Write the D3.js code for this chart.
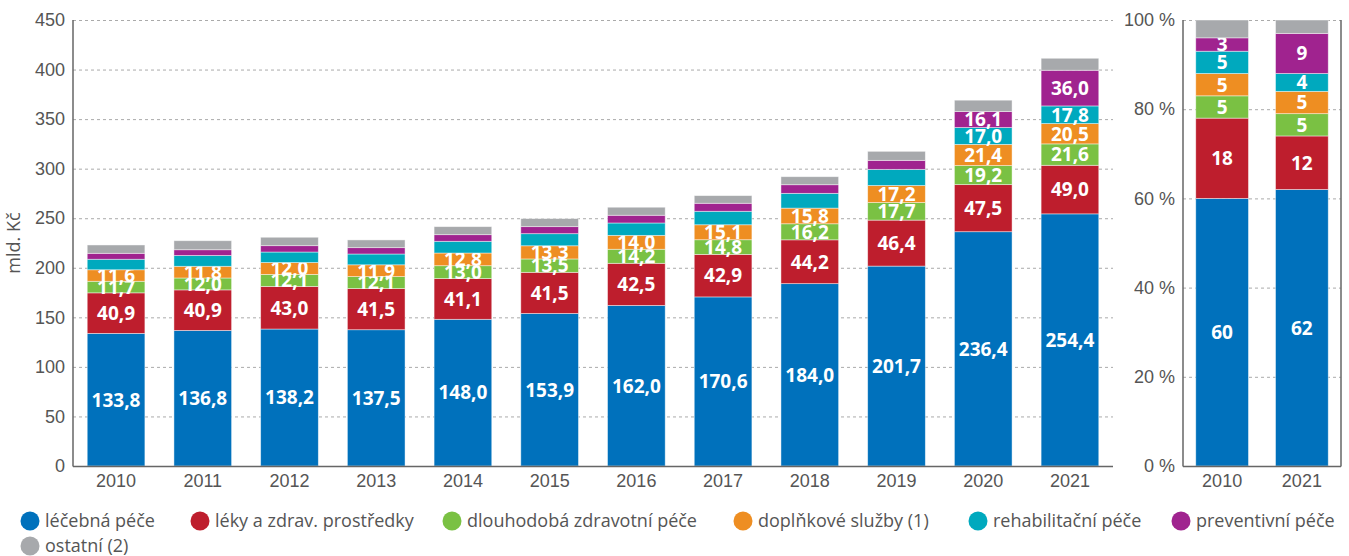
<!DOCTYPE html>
<html lang="cs">
<head>
    <meta charset="UTF-8">
    <title>Výdaje na zdravotní péči</title>
    <style>
        body { margin: 0; background: #fff; font-family: "Open Sans", sans-serif; }
        .tick text { fill: #555; }
    </style>
</head>
<body>
    <div id="chart"></div>

    <script src="https://d3js.org/d3.v7.min.js"></script>
    <script>
        // years and values in mld. Kč
        const years = ["2010", "2011", "2012", "2013", "2014", "2015", "2016", "2017", "2018", "2019", "2020", "2021"];
        const lecebna = [133.8, 136.8, 138.2, 137.5, 148.0, 153.9, 162.0, 170.6, 184.0, 201.7, 236.4, 254.4];
        const leky = [40.9, 40.9, 43.0, 41.5, 41.1, 41.5, 42.5, 42.9, 44.2, 46.4, 47.5, 49.0];
        const dlouhodoba = [11.7, 12.0, 12.1, 12.1, 13.0, 13.5, 14.2, 14.8, 16.2, 17.7, 19.2, 21.6];
        const doplnkove = [11.6, 11.8, 12.0, 11.9, 12.8, 13.3, 14.0, 15.1, 15.8, 17.2, 21.4, 20.5];
        const rehabilitacni = [10.6, 10.9, 10.6, 10.9, 11.8, 12.2, 12.5, 13.6, 14.9, 16.3, 17.0, 17.8];
        const preventivni = [6.0, 5.8, 6.4, 6.4, 6.7, 7.1, 7.8, 8.1, 8.7, 9.1, 16.1, 36.0];
        const ostatni = [8.4, 9.1, 8.5, 7.8, 8.1, 8.1, 8.1, 7.7, 8.1, 9.1, 11.5, 12.1];

        // shares in %
        const shareYears = ["2010", "2021"];
        const shareLecebna = [60, 62];
        const shareLeky = [18, 12];
        const shareDlouhodoba = [5, 5];
        const shareDoplnkove = [5, 5];
        const shareRehabilitacni = [5, 4];
        const sharePreventivni = [3, 9];
        const shareOstatni = [4, 3];

        const yTicks = [0, 50, 100, 150, 200, 250, 300, 350, 400, 450];
        const pctTicks = [0, 20, 40, 60, 80, 100];

        const seriesNames = ["léčebná péče", "léky a zdrav. prostředky", "dlouhodobá zdravotní péče",
            "doplňkové služby (1)", "rehabilitační péče", "preventivní péče", "ostatní (2)"];
        const colors = ["#0071bc", "#be1e2d", "#7ac143", "#ee8e22", "#00a9be", "#a0238f", "#a7a9ac"];

        // which years get a value label in the left panel (null = all)
        const labelYears = [null, null, null, null, ["2020", "2021"], ["2020", "2021"], []];
        const shareLabelled = [true, true, true, true, true, true, false];

        const absSeries = [lecebna, leky, dlouhodoba, doplnkove, rehabilitacni, preventivni, ostatni];
        const shareSeries = [shareLecebna, shareLeky, shareDlouhodoba, shareDoplnkove, shareRehabilitacni, sharePreventivni, shareOstatni];

        const W = 1349, H = 556;
        const svg = d3.select("#chart").append("svg")
            .attr("width", W).attr("height", H);

        const fmt1 = v => d3.format(".1f")(v).replace(".", ",");

        const y = d3.scaleLinear().domain([0, 450]).range([466, 20]);
        const yPct = d3.scaleLinear().domain([0, 100]).range([466, 20]);

        const x = d3.scaleBand().domain(years).range([73, 1113])
            .paddingInner(0.335).paddingOuter(0.164);
        const xPct = d3.scaleBand().domain(shareYears).range([1183, 1341])
            .paddingInner(0.339).paddingOuter(0.16);

        function stackRows(cats, series) {
            return cats.map((c, i) => {
                const row = { cat: c };
                series.forEach((s, k) => row["s" + k] = s[i]);
                return row;
            });
        }
        const keys = seriesNames.map((d, k) => "s" + k);
        const stackedAbs = d3.stack().keys(keys)(stackRows(years, absSeries));
        const stackedPct = d3.stack().keys(keys)(stackRows(shareYears, shareSeries));

        // gridlines + axes
        function drawAxis(scale, ticks, xLeft, xRight, fmt) {
            const g = svg.append("g").attr("transform", `translate(${xLeft},0)`);
            g.call(d3.axisLeft(scale).tickValues(ticks).tickFormat(fmt)
                .tickSizeInner(-(xRight - xLeft)).tickSizeOuter(0).tickPadding(8));
            g.select(".domain").remove();
            g.selectAll(".tick line")
                .attr("stroke", "#aaa").attr("stroke-dasharray", "3,3")
                .attr("stroke-width", 1);
            g.selectAll(".tick text").attr("font-size", 18).attr("fill", "#555");
            return g;
        }
        drawAxis(y, yTicks, 73, 1113, d3.format("d"));
        drawAxis(yPct, pctTicks, 1183, 1341, d => d + " %");

        // each layer: rects, then its labels (the next layer covers label overflow)
        function drawBars(stacked, xs, ys, labelFn, showLabel) {
            stacked.forEach((layer, k) => {
                const g = svg.append("g");
                g.selectAll("rect").data(layer).join("rect")
                    .attr("x", d => xs(d.data.cat))
                    .attr("width", xs.bandwidth())
                    .attr("y", d => ys(d[1]))
                    .attr("height", d => ys(d[0]) - ys(d[1]))
                    .attr("fill", colors[k])
                    .attr("stroke", "rgba(255,255,255,0.55)")
                    .attr("stroke-width", 0.8);
                g.selectAll("text").data(layer.filter(d => showLabel(k, d.data.cat))).join("text")
                    .attr("x", d => xs(d.data.cat) + xs.bandwidth() / 2)
                    .attr("y", d => (ys(d[0]) + ys(d[1])) / 2)
                    .attr("dy", "0.36em")
                    .attr("text-anchor", "middle")
                    .attr("font-size", 19)
                    .attr("font-weight", "bold")
                    .attr("fill", "#fff")
                    .text(d => labelFn(d[1] - d[0]));
            });
        }
        drawBars(stackedAbs, x, y, fmt1, (k, cat) => labelYears[k] === null || labelYears[k].includes(cat));
        drawBars(stackedPct, xPct, yPct, d3.format("d"), (k) => shareLabelled[k]);

        // axis lines
        const axisColor = "#666";
        function line(x1, y1, x2, y2) {
            svg.append("line").attr("x1", x1).attr("y1", y1).attr("x2", x2).attr("y2", y2)
                .attr("stroke", axisColor).attr("stroke-width", 1.5);
        }
        line(73, 20, 73, 466.5);
        line(73, 466.5, 1113, 466.5);
        line(1183, 20, 1183, 466.5);
        line(1183, 466.5, 1341, 466.5);
        line(1341, 20, 1341, 466.5);

        // x tick labels
        const xAxisL = svg.append("g").attr("transform", "translate(0,466)")
            .call(d3.axisBottom(x).tickSize(0).tickPadding(8));
        const xAxisR = svg.append("g").attr("transform", "translate(0,466)")
            .call(d3.axisBottom(xPct).tickSize(0).tickPadding(8));
        [xAxisL, xAxisR].forEach(g => {
            g.select(".domain").remove();
            g.selectAll(".tick text").attr("font-size", 18).attr("fill", "#555");
        });

        // y axis title
        svg.append("text")
            .attr("transform", "translate(20,243) rotate(-90)")
            .attr("text-anchor", "middle")
            .attr("font-size", 18)
            .attr("fill", "#555")
            .text("mld. Kč");

        // legend
        const legendPos = [[30, 521], [200, 521], [452, 521], [743, 521], [978, 521], [1181, 521], [30, 546]];
        const legend = svg.append("g").selectAll("g").data(seriesNames).join("g")
            .attr("transform", (d, i) => `translate(${legendPos[i][0]},${legendPos[i][1]})`);
        legend.append("circle").attr("r", 9.5).attr("fill", (d, i) => colors[i]);
        legend.append("text").attr("x", 15).attr("dy", "0.35em")
            .attr("font-size", 18).attr("fill", "#555").text(d => d);
    </script>
</body>
</html>
